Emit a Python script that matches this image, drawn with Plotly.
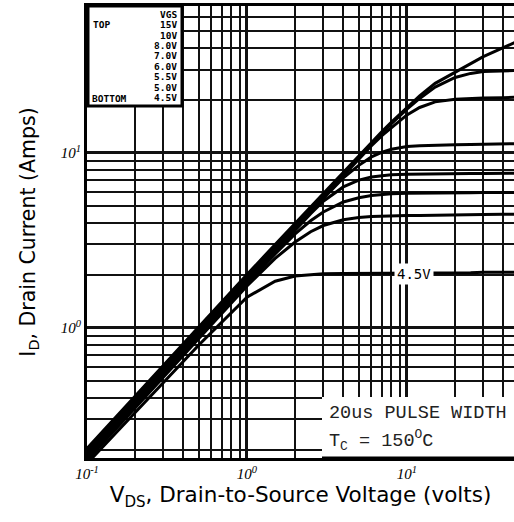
import plotly.graph_objects as go

# ---------------- data ----------------
VDS = [0.1, 0.5, 1, 1.5, 2, 2.5, 3, 4, 5, 6, 7, 8, 10, 12, 15, 20, 25, 30, 40, 47]

VGS_LABELS = ["15V", "10V", "8.0V", "7.0V", "6.0V", "5.5V", "5.0V", "4.5V"]

ID_15V = [0.205, 1.02, 2.02, 3.0, 3.96, 4.92, 5.87, 7.8, 9.7, 11.5, 13.3, 15.0, 18.2, 21.2, 25.0, 29.0, 32.5, 35.5, 40.0, 42.7]
ID_10V = [0.2, 1.0, 1.98, 2.94, 3.88, 4.82, 5.76, 7.65, 9.5, 11.3, 13.0, 14.7, 17.8, 20.5, 23.8, 27.0, 28.5, 29.2, 29.5, 29.6]
ID_8V = [0.195, 0.975, 1.93, 2.86, 3.79, 4.71, 5.65, 7.5, 9.3, 11.0, 12.6, 14.0, 16.5, 18.2, 19.6, 20.3, 20.5, 20.6, 20.7, 20.8]
ID_7V = [0.19, 0.95, 1.88, 2.8, 3.71, 4.6, 5.5, 7.2, 8.5, 9.5, 10.1, 10.5, 10.9, 11.0, 11.1, 11.15, 11.2, 11.2, 11.25, 11.3]
ID_6V = [0.185, 0.925, 1.84, 2.73, 3.62, 4.5, 5.3, 6.4, 7.0, 7.3, 7.42, 7.5, 7.55, 7.58, 7.6, 7.62, 7.63, 7.64, 7.65, 7.66]
ID_5V5 = [0.18, 0.9, 1.79, 2.65, 3.45, 4.1, 4.6, 5.25, 5.55, 5.72, 5.8, 5.84, 5.88, 5.9, 5.9, 5.92, 5.93, 5.94, 5.95, 5.95]
ID_5V = [0.175, 0.875, 1.74, 2.5, 3.1, 3.55, 3.85, 4.15, 4.28, 4.33, 4.36, 4.38, 4.4, 4.4, 4.42, 4.43, 4.44, 4.45, 4.46, 4.47]
ID_4V5 = [0.168, 0.8, 1.5, 1.85, 1.98, 2.02, 2.04, 2.05, 2.05, 2.06, 2.06, 2.06, 2.06, 2.06, 2.07, 2.07, 2.07, 2.08, 2.08, 2.08]

SERIES = [ID_15V, ID_10V, ID_8V, ID_7V, ID_6V, ID_5V5, ID_5V, ID_4V5]

X_TICKS = [0.1, 1, 10]
X_TICKTEXT = ["10<sup>-1</sup>", "10<sup>0</sup>", "10<sup>1</sup>"]
X_MINOR = [0.2, 0.3, 0.4, 0.5, 0.6, 0.7, 0.8, 0.9, 2, 3, 4, 5, 6, 7, 8, 9, 20, 30, 40]
Y_TICKS = [1, 10]
Y_TICKTEXT = ["10<sup>0</sup>", "10<sup>1</sup>"]
Y_MINOR = [0.2, 0.3, 0.4, 0.5, 0.6, 0.7, 0.8, 0.9, 2, 3, 4, 5, 6, 7, 8, 9, 20, 30, 40, 50, 60]

# ---------------- figure ----------------
fig = go.Figure()
for name, ys in zip(VGS_LABELS, SERIES):
    fig.add_trace(go.Scatter(x=VDS, y=ys, mode="lines", name=name,
                             line=dict(color="black", width=3),
                             showlegend=False, hoverinfo="skip"))

W, H = 514, 522
L, R, T, B = 87, 0, 6, 64
pw, ph = W - L - R, H - T - B


def px(x):
    return (x - L) / pw


def py(y):
    return (T + ph - y) / ph


GRID = "#111111"
TICKFONT = dict(family="Liberation Serif", size=15, color="black", style="italic")
fig.update_layout(
    width=W, height=H,
    margin=dict(l=L, r=R, t=T, b=B),
    plot_bgcolor="white", paper_bgcolor="white",
    xaxis=dict(
        type="log", range=[-1, 1.669],
        tickmode="array", tickvals=X_TICKS, ticktext=X_TICKTEXT,
        ticks="", showgrid=True, gridcolor=GRID, gridwidth=3,
        minor=dict(tickmode="array", tickvals=X_MINOR, showgrid=True,
                   gridcolor=GRID, gridwidth=2, ticks=""),
        showline=True, mirror=True, linecolor="black", linewidth=3,
        zeroline=False, tickfont=TICKFONT,
        title=dict(text="V<sub>DS</sub>, Drain-to-Source Voltage (volts)",
                   font=dict(family="DejaVu Sans", size=21.5, color="black"),
                   standoff=6),
    ),
    yaxis=dict(
        type="log", range=[-0.743, 1.840],
        tickmode="array", tickvals=Y_TICKS, ticktext=Y_TICKTEXT,
        ticks="", showgrid=True, gridcolor=GRID, gridwidth=3,
        minor=dict(tickmode="array", tickvals=Y_MINOR, showgrid=True,
                   gridcolor=GRID, gridwidth=2, ticks=""),
        showline=True, mirror=False, linecolor="black", linewidth=3,
        zeroline=False, tickfont=TICKFONT,
        title=dict(text="I<sub>D</sub>, Drain Current (Amps)",
                   font=dict(family="DejaVu Sans", size=20.5, color="black"),
                   standoff=20),
    ),
)

# legend box (top-left)
fig.add_shape(type="rect", xref="paper", yref="paper",
              x0=px(88), x1=px(182), y0=py(106), y1=py(6),
              fillcolor="white", line=dict(color="black", width=3), layer="above")

MONO = dict(family="DejaVu Sans Mono", size=9.5, color="black")
leg_lines = ["VGS"] + VGS_LABELS
for i, t in enumerate(leg_lines):
    fig.add_annotation(xref="paper", yref="paper", x=px(179), y=py(14 + i * 10.5),
                       text="<b>" + t + "</b>", showarrow=False, xanchor="right",
                       yanchor="middle", font=MONO)
fig.add_annotation(xref="paper", yref="paper", x=px(91), y=py(24.5), text="<b>TOP</b>",
                   showarrow=False, xanchor="left", yanchor="middle", font=MONO)
fig.add_annotation(xref="paper", yref="paper", x=px(90), y=py(98.5), text="<b>BOTTOM</b>",
                   showarrow=False, xanchor="left", yanchor="middle", font=MONO)

# pulse width / temperature box (bottom-right)
fig.add_shape(type="rect", xref="paper", yref="paper",
              x0=px(322), x1=1.0, y0=0.0, y1=py(397),
              fillcolor="white", line=dict(width=0), layer="above")
fig.add_shape(type="line", xref="paper", yref="paper",
              x0=px(322), x1=1.0, y0=0.0, y1=0.0,
              line=dict(color="black", width=3), layer="above")
NOTE = dict(family="Liberation Mono", size=18.5, color="#222222")
fig.add_annotation(xref="paper", yref="paper", x=px(327), y=py(413),
                   text="20us PULSE WIDTH", showarrow=False, xanchor="left",
                   yanchor="middle", font=NOTE)
fig.add_annotation(xref="paper", yref="paper", x=px(327), y=py(440),
                   text="T<sub>C</sub> = 150<sup>O</sup>C", showarrow=False, xanchor="left",
                   yanchor="middle", font=NOTE)

# 4.5V curve label
fig.add_annotation(xref="paper", yref="paper", x=px(414), y=py(274),
                   text="4.5V", showarrow=False, xanchor="center", yanchor="middle",
                   bgcolor="white", borderpad=2,
                   font=dict(family="DejaVu Sans Mono", size=14, color="black"))

fig.write_html("out.html", config={"displayModeBar": False},
               post_script="document.body.style.margin='0';")
